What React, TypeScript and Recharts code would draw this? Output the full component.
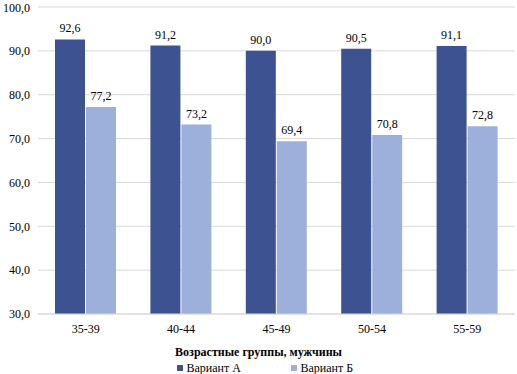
import { BarChart, Bar, XAxis, YAxis, CartesianGrid, Legend, LabelList } from 'recharts'

const AGE_GROUPS = ['35-39', '40-44', '45-49', '50-54', '55-59']
const VARIANT_A = [92.6, 91.2, 90.0, 90.5, 91.1]
const VARIANT_B = [77.2, 73.2, 69.4, 70.8, 72.8]
const Y_TICKS = [30, 40, 50, 60, 70, 80, 90, 100]

const COLOR_A = '#3C5291'
const COLOR_B = '#9DAFDB'
const FONT = "'Liberation Serif', 'Times New Roman', Tinos, 'DejaVu Serif', 'Noto Serif', FreeSerif, serif"

const fmt = (v: number | string) => Number(v).toFixed(1).replace('.', ',')

const data = AGE_GROUPS.map((group, i) => ({
  group,
  a: VARIANT_A[i],
  b: VARIANT_B[i],
}))

function BottomLegend() {
  return (
    <div style={{ fontFamily: FONT, color: '#000', textAlign: 'center' }}>
      <div style={{ fontWeight: 'bold', fontSize: 12, lineHeight: '15px' }}>
        Возрастные группы, мужчины
      </div>
      <div style={{ display: 'flex', justifyContent: 'center', fontSize: 12, lineHeight: '16px', marginLeft: 20 }}>
        <span style={{ display: 'inline-flex', alignItems: 'center', width: 114 }}>
          <span style={{ width: 6, height: 6, background: COLOR_A, marginRight: 4 }} />
          Вариант А
        </span>
        <span style={{ display: 'inline-flex', alignItems: 'center', width: 70 }}>
          <span style={{ width: 6, height: 6, background: COLOR_B, marginRight: 4 }} />
          Вариант Б
        </span>
      </div>
    </div>
  )
}

export default function App() {
  return (
    <div style={{ position: 'absolute', left: 0, top: 0, width: 517, height: 374, background: '#fff', fontFamily: FONT }}>
      <BarChart
        width={517}
        height={374}
        data={data}
        margin={{ top: 7, right: 2, left: 0, bottom: 9 }}
        barGap={1}
        style={{ fontFamily: FONT }}
      >
        <CartesianGrid vertical={false} stroke="#D9D9D9" />
        <XAxis
          dataKey="group"
          height={20}
          tickLine={false}
          axisLine={{ stroke: '#D9D9D9' }}
          tick={{ fontFamily: FONT, fontSize: 12, fill: '#000' }}
          tickMargin={4}
        />
        <YAxis
          width={38}
          domain={[30, 100]}
          ticks={Y_TICKS}
          tickFormatter={fmt}
          axisLine={false}
          tickLine={false}
          tick={{ fontFamily: FONT, fontSize: 12, fill: '#000' }}
          tickMargin={2}
          allowDataOverflow
        />
        <Legend
          verticalAlign="bottom"
          content={() => <BottomLegend />}
          wrapperStyle={{ left: 0, top: 345, width: 517 }}
        />
        <Bar dataKey="a" name="Вариант А" fill={COLOR_A} barSize={30} isAnimationActive={false}>
          <LabelList
            dataKey="a"
            position="top"
            offset={7}
            formatter={fmt}
            style={{ fontFamily: FONT, fontSize: 12, fill: '#000' }}
          />
        </Bar>
        <Bar dataKey="b" name="Вариант Б" fill={COLOR_B} barSize={30} isAnimationActive={false}>
          <LabelList
            dataKey="b"
            position="top"
            offset={7}
            formatter={fmt}
            style={{ fontFamily: FONT, fontSize: 12, fill: '#000' }}
          />
        </Bar>
      </BarChart>
    </div>
  )
}
